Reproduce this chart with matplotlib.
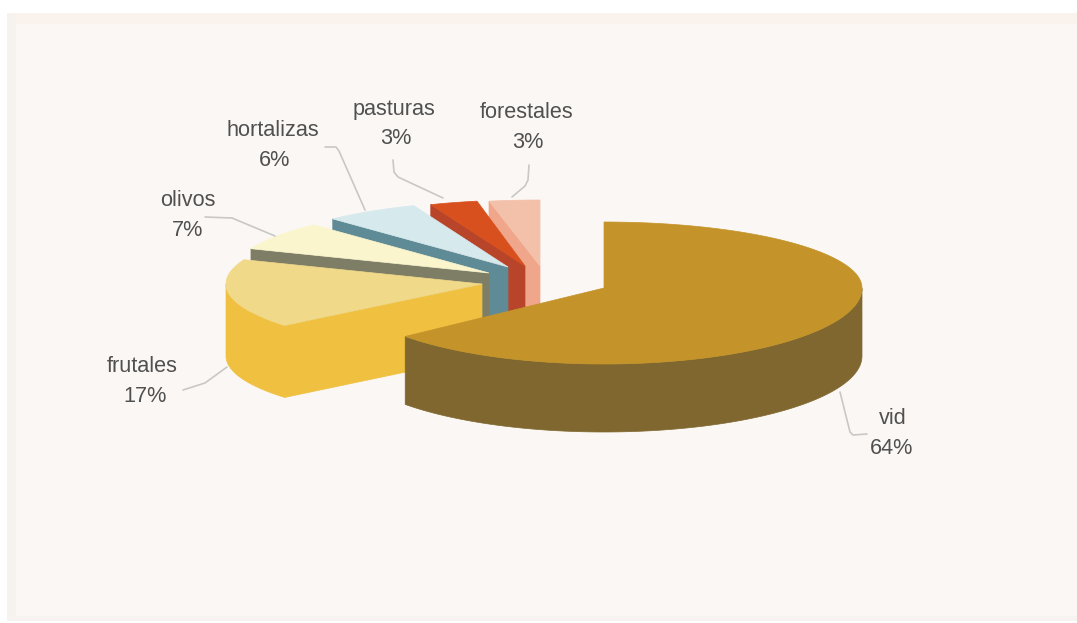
import numpy as np
import matplotlib
matplotlib.use("Agg")
import matplotlib.pyplot as plt
from matplotlib.patches import Polygon, Rectangle

plt.rcParams['font.family'] = ['Liberation Sans', 'DejaVu Sans']

# cultivos y porcentajes
cultivos = ["vid", "frutales", "olivos", "hortalizas", "pasturas", "forestales"]
valores = [64, 17, 7, 6, 3, 3]

color_sup = ["#C4942B", "#F1D98A", "#FBF5CE", "#D6E9ED", "#D9501F", "#F3C0A9"]
color_lado = ["#7F672F", "#F0C040", "#7E7E66", "#5F8B96", "#B8452A", "#EFA68B"]

# vertice de cada porcion (separadas del centro)
vertices = [(604, 288), (482, 284), (489, 273), (508, 267), (525, 266), (540, 266)]
rx = [258, 256, 256, 256, 256, 272]

ry_atras = 66
ry_frente = [76, 65, 74, 74, 74, 74]
alto = [68, 72, 68, 68, 68, 68]

# posicion de los textos: nombre y porcentaje
pos_nombre = [(893, 418), (142, 366), (188, 201), (273, 131), (394, 110), (527, 113)]
pos_pct = [(892, 448), (145, 396), (188, 230), (275, 161), (396, 139), (528, 143)]

# lineas guia
guias = [
    [(840, 392), (850, 432), (853, 435), (867, 434)],
    [(183, 390), (205, 383), (227, 367)],
    [(205, 217), (232, 218), (275, 236)],
    [(325, 147), (336, 147), (339, 151), (365, 210)],
    [(393, 160), (394, 172), (398, 177), (443, 198)],
    [(529, 165), (528, 180), (525, 186), (512, 197)],
]


def punto(cx, cy, radio_x, frente, ang):
    # angulo en radianes, horario desde arriba; el frente se ve mas grande
    x = cx + radio_x * np.sin(ang)
    c = np.cos(ang)
    ry = np.where(c > 0, ry_atras, frente)
    y = cy - ry * c
    return x, y


fig = plt.figure(figsize=(10.77, 6.23), dpi=100, facecolor="white")
ax = fig.add_axes([0, 0, 1, 1])
ax.set_xlim(0, 1077)
ax.set_ylim(623, 0)
ax.axis("off")

# fondo
ax.add_patch(Rectangle((7, 13), 1070, 608, fc="#FBF7F4", ec="none", zorder=0))
ax.add_patch(Rectangle((7, 13), 1070, 11, fc="#FAF2EC", ec="none", zorder=0))
ax.add_patch(Rectangle((7, 13), 9, 608, fc="#F6F2EE", ec="none", zorder=0))
ax.add_patch(Rectangle((7, 616), 1070, 5, fc="#F7F3F0", ec="none", zorder=0))

# angulos a partir de los valores
acum = np.cumsum([0] + valores) / sum(valores) * 2 * np.pi

# de atras hacia adelante, la vid queda encima de todo
z = 1
for i in range(len(valores) - 1, -1, -1):
    cx, cy = vertices[i]
    a0, a1 = acum[i], acum[i + 1]
    th = np.linspace(a0, a1, 200)
    xs, ys = punto(cx, cy, rx[i], ry_frente[i], th)

    # cara de corte al inicio de la porcion
    x0, y0 = punto(cx, cy, rx[i], ry_frente[i], a0)
    cara = [(cx, cy), (x0, y0), (x0, y0 + alto[i]), (cx, cy + alto[i])]
    ax.add_patch(Polygon(cara, fc=color_lado[i], ec=color_lado[i], lw=0.5, zorder=z))
    z += 1

    # borde exterior, solo la parte que mira al frente
    vis = th[(th > np.pi / 2) & (th < 3 * np.pi / 2)]
    if len(vis) > 1:
        xv, yv = punto(cx, cy, rx[i], ry_frente[i], vis)
        borde = np.vstack([np.c_[xv, yv], np.c_[xv[::-1], yv[::-1] + alto[i]]])
        ax.add_patch(Polygon(borde, fc=color_lado[i], ec=color_lado[i], lw=0.5, zorder=z))
        z += 1

    # tapa
    tapa = np.vstack([[cx, cy], np.c_[xs, ys]])
    ax.add_patch(Polygon(tapa, fc=color_sup[i], ec=color_sup[i], lw=0.5, zorder=z))
    z += 1

for g in guias:
    g = np.array(g)
    ax.plot(g[:, 0], g[:, 1], color="#C9C8C5", lw=1.2, zorder=z, solid_capstyle="round")

for i, nombre in enumerate(cultivos):
    ax.text(*pos_nombre[i], nombre, fontsize=15.6, color="#505050", ha="center", va="center", zorder=z + 1)
    ax.text(*pos_pct[i], f"{valores[i]}%", fontsize=15.6, color="#505050", ha="center", va="center", zorder=z + 1)

fig.savefig("out.png", dpi=100)
